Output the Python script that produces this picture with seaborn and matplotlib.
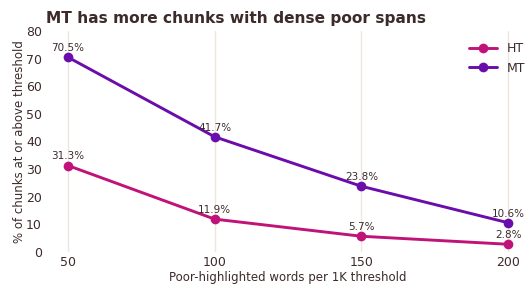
import pandas as pd
import seaborn as sns
import matplotlib.pyplot as plt

thresholds = [50, 100, 150, 200]
ht_pct = [31.3, 11.9, 5.7, 2.8]
mt_pct = [70.5, 41.7, 23.8, 10.6]

TEXT = '#3d2b2b'
palette = {'HT': '#c0137a', 'MT': '#6a0dab'}

df = pd.DataFrame({
    'threshold': thresholds * 2,
    'pct': ht_pct + mt_pct,
    'group': ['HT'] * len(thresholds) + ['MT'] * len(thresholds),
})

sns.set_style('white')
plt.rcParams['font.family'] = ['DejaVu Sans']

fig, ax = plt.subplots(figsize=(5.27, 2.84), dpi=100)
fig.subplots_adjust(left=46 / 527, right=530 / 527, top=1 - 31 / 284, bottom=1 - 252 / 284)

sns.lineplot(data=df, x='threshold', y='pct', hue='group', palette=palette,
             marker='o', markersize=7, markeredgewidth=0, linewidth=2.1, ax=ax)

for _, r in df.iterrows():
    ax.annotate(f"{r['pct']:.1f}%", (r['threshold'], r['pct']), xytext=(0, 3),
                textcoords='offset points', ha='center', va='bottom',
                fontsize=7.5, color=TEXT)

ax.set_xlim(42.5, 207.5)
ax.set_ylim(0, 80)
ax.set_xticks(thresholds)
ax.set_yticks(range(0, 81, 10))
ax.grid(axis='x', color='#ece6df', linewidth=1)
ax.grid(axis='y', visible=False)
for s in ax.spines.values():
    s.set_visible(False)
ax.tick_params(colors=TEXT, labelsize=9, length=0, pad=3)
ax.set_xlabel('Poor-highlighted words per 1K threshold', color=TEXT, fontsize=8.5, labelpad=1)
ax.set_ylabel('% of chunks at or above threshold', color=TEXT, fontsize=8.5, labelpad=0)

leg = ax.legend(loc='upper right', bbox_to_anchor=(1.013, 1.0), frameon=False,
                fontsize=9, handlelength=2.2)
for t in leg.get_texts():
    t.set_color(TEXT)

fig.text(46 / 527, 1 - 19 / 284, 'MT has more chunks with dense poor spans',
         fontsize=11.1, fontweight='bold', color=TEXT, va='center', ha='left')

fig.savefig('out.png', dpi=100)
